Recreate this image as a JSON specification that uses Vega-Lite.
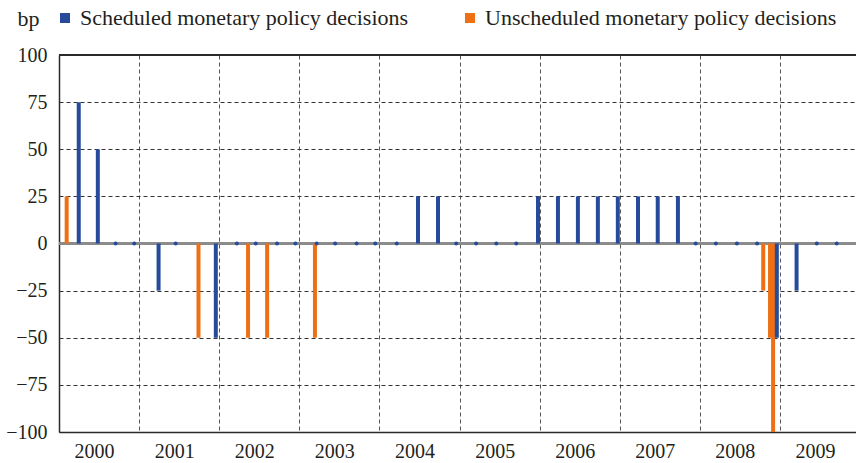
{
  "$schema": "https://vega.github.io/schema/vega-lite/v6.json",
  "autosize": "none",
  "width": 797,
  "height": 377,
  "padding": {"left": 59, "top": 55, "right": 0, "bottom": 31},
  "background": "white",
  "config": {
    "font": "Liberation Serif",
    "view": {"stroke": null},
    "axis": {"labelFont": "Liberation Serif", "titleFont": "Liberation Serif"},
    "legend": {"labelFont": "Liberation Serif", "titleFont": "Liberation Serif"}
  },
  "datasets": {
    "decisions": [
      {"date": "2000-02-05", "value": 25, "type": "Unscheduled monetary policy decisions"},
      {"date": "2000-03-31", "value": 75, "type": "Scheduled monetary policy decisions"},
      {"date": "2000-06-26", "value": 50, "type": "Scheduled monetary policy decisions"},
      {"date": "2000-09-15", "value": 0, "type": "Scheduled monetary policy decisions"},
      {"date": "2000-12-09", "value": 0, "type": "Scheduled monetary policy decisions"},
      {"date": "2001-03-30", "value": -25, "type": "Scheduled monetary policy decisions"},
      {"date": "2001-06-16", "value": 0, "type": "Scheduled monetary policy decisions"},
      {"date": "2001-09-28", "value": -50, "type": "Unscheduled monetary policy decisions"},
      {"date": "2001-12-16", "value": -50, "type": "Scheduled monetary policy decisions"},
      {"date": "2002-03-22", "value": 0, "type": "Scheduled monetary policy decisions"},
      {"date": "2002-05-12", "value": -50, "type": "Unscheduled monetary policy decisions"},
      {"date": "2002-06-16", "value": 0, "type": "Scheduled monetary policy decisions"},
      {"date": "2002-08-07", "value": -50, "type": "Unscheduled monetary policy decisions"},
      {"date": "2002-09-21", "value": 0, "type": "Scheduled monetary policy decisions"},
      {"date": "2002-12-14", "value": 0, "type": "Scheduled monetary policy decisions"},
      {"date": "2003-03-13", "value": -50, "type": "Unscheduled monetary policy decisions"},
      {"date": "2003-03-21", "value": 0, "type": "Scheduled monetary policy decisions"},
      {"date": "2003-06-13", "value": 0, "type": "Scheduled monetary policy decisions"},
      {"date": "2003-09-19", "value": 0, "type": "Scheduled monetary policy decisions"},
      {"date": "2003-12-13", "value": 0, "type": "Scheduled monetary policy decisions"},
      {"date": "2004-03-20", "value": 0, "type": "Scheduled monetary policy decisions"},
      {"date": "2004-06-25", "value": 25, "type": "Scheduled monetary policy decisions"},
      {"date": "2004-09-24", "value": 25, "type": "Scheduled monetary policy decisions"},
      {"date": "2004-12-16", "value": 0, "type": "Scheduled monetary policy decisions"},
      {"date": "2005-03-17", "value": 0, "type": "Scheduled monetary policy decisions"},
      {"date": "2005-06-17", "value": 0, "type": "Scheduled monetary policy decisions"},
      {"date": "2005-09-16", "value": 0, "type": "Scheduled monetary policy decisions"},
      {"date": "2005-12-24", "value": 25, "type": "Scheduled monetary policy decisions"},
      {"date": "2006-03-25", "value": 25, "type": "Scheduled monetary policy decisions"},
      {"date": "2006-06-24", "value": 25, "type": "Scheduled monetary policy decisions"},
      {"date": "2006-09-23", "value": 25, "type": "Scheduled monetary policy decisions"},
      {"date": "2006-12-23", "value": 25, "type": "Scheduled monetary policy decisions"},
      {"date": "2007-03-25", "value": 25, "type": "Scheduled monetary policy decisions"},
      {"date": "2007-06-23", "value": 25, "type": "Scheduled monetary policy decisions"},
      {"date": "2007-09-23", "value": 25, "type": "Scheduled monetary policy decisions"},
      {"date": "2007-12-13", "value": 0, "type": "Scheduled monetary policy decisions"},
      {"date": "2008-03-14", "value": 0, "type": "Scheduled monetary policy decisions"},
      {"date": "2008-06-18", "value": 0, "type": "Scheduled monetary policy decisions"},
      {"date": "2008-09-18", "value": 0, "type": "Scheduled monetary policy decisions"},
      {"date": "2008-10-16", "value": -25, "type": "Unscheduled monetary policy decisions"},
      {"date": "2008-11-16", "value": -50, "type": "Unscheduled monetary policy decisions"},
      {"date": "2008-11-30", "value": -100, "type": "Unscheduled monetary policy decisions"},
      {"date": "2008-12-17", "value": -50, "type": "Scheduled monetary policy decisions"},
      {"date": "2009-03-17", "value": -25, "type": "Scheduled monetary policy decisions"},
      {"date": "2009-06-17", "value": 0, "type": "Scheduled monetary policy decisions"},
      {"date": "2009-09-16", "value": 0, "type": "Scheduled monetary policy decisions"}
    ]
  },
  "data": {"name": "decisions"},
  "layer": [
    {
      "mark": {"type": "rule", "color": "#8c8c8c", "strokeWidth": 1.6},
      "encoding": {"y": {"datum": 0, "type": "quantitative"}}
    },
    {
      "mark": {"type": "bar", "size": 4},
      "encoding": {
        "x": {
          "field": "date", "type": "temporal",
          "scale": {"domain": ["2000-01-01", "2009-12-13"], "nice": false, "padding": 0},
          "axis": {
            "title": null,
            "values": ["2000-01-01", "2001-01-01", "2002-01-01", "2003-01-01", "2004-01-01", "2005-01-01", "2006-01-01", "2007-01-01", "2008-01-01", "2009-01-01"],
            "format": "%Y",
            "labelOffset": 35,
            "labelFlush": false,
            "labelFont": "Liberation Serif",
            "labelFontSize": 20,
            "labelColor": "#231f20",
            "labelPadding": 9,
            "ticks": false,
            "domainColor": "#2b2b2b",
            "domainWidth": 1.5,
            "grid": true,
            "gridDash": [4, 3],
            "gridColor": "#555555",
            "gridWidth": 1
          }
        },
        "y": {
          "field": "value", "type": "quantitative",
          "scale": {"domain": [-100, 100], "nice": false},
          "axis": {
            "title": "bp",
            "titleFont": "Liberation Serif",
            "titleAngle": 0,
            "titleX": -42,
            "titleY": -37,
            "titleAlign": "left",
            "titleBaseline": "middle",
            "titleFontSize": 22,
            "titleFontWeight": "normal",
            "titleColor": "#231f20",
            "values": [-100, -75, -50, -25, 0, 25, 50, 75, 100],
            "labelFont": "Liberation Serif",
            "labelFontSize": 20,
            "labelColor": "#231f20",
            "labelPadding": 12,
            "ticks": false,
            "domainColor": "#2b2b2b",
            "domainWidth": 1.5,
            "grid": true,
            "gridDash": [4, 3],
            "gridColor": "#333333",
            "gridWidth": 1
          }
        },
        "color": {
          "field": "type", "type": "nominal",
          "scale": {
            "domain": ["Scheduled monetary policy decisions", "Unscheduled monetary policy decisions"],
            "range": ["#264b9b", "#ef6f14"]
          },
          "legend": {
            "title": null,
            "orient": "none",
            "direction": "horizontal",
            "legendX": -5,
            "legendY": -48,
            "symbolType": "square",
            "symbolSize": 100,
            "symbolStrokeWidth": 0,
            "labelFont": "Liberation Serif",
            "labelFontSize": 22,
            "labelColor": "#231f20",
            "labelOffset": 4,
            "columnPadding": 50,
            "labelLimit": 500
          }
        }
      }
    },
    {
      "transform": [{"filter": "datum.value == 0"}],
      "mark": {"type": "point", "filled": true, "size": 16, "color": "#264b9b", "opacity": 1},
      "encoding": {
        "x": {"field": "date", "type": "temporal"},
        "y": {"field": "value", "type": "quantitative"}
      }
    },
    {
      "mark": {"type": "rule", "color": "#2b2b2b", "strokeWidth": 1.5},
      "encoding": {"y": {"datum": 100, "type": "quantitative"}}
    }
  ]
}
